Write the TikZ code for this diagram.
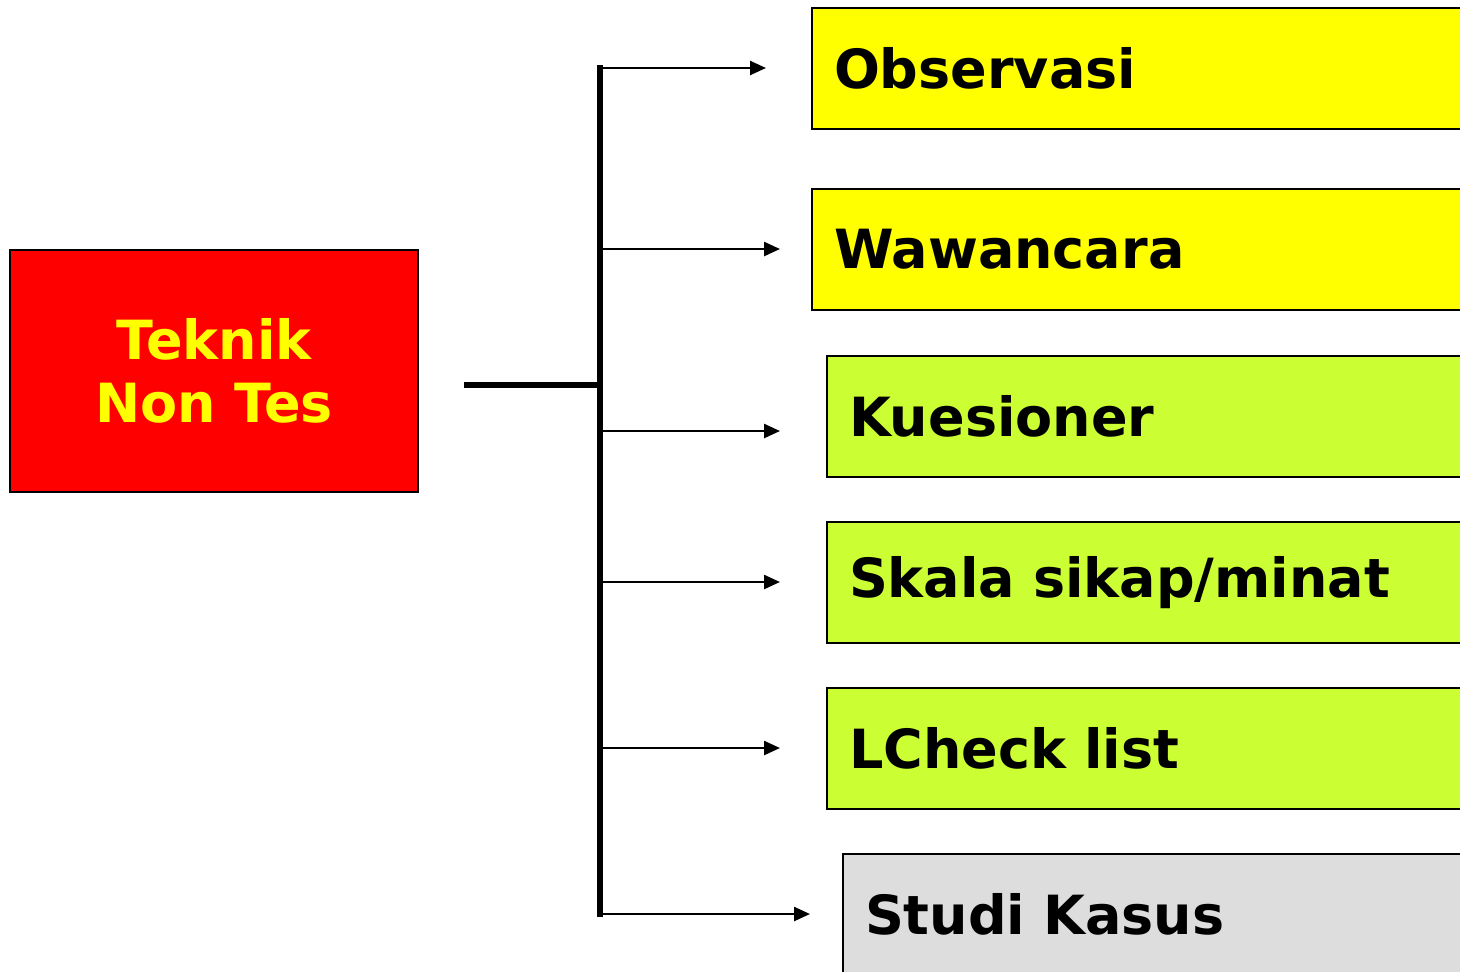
\documentclass[tikz,border=0pt]{standalone}
\usepackage{fontspec}
\setmainfont{DejaVu Sans}
\usetikzlibrary{arrows.meta}

\definecolor{redbox}{HTML}{FF0000}
\definecolor{yellowbox}{HTML}{FFFF00}
\definecolor{limebox}{HTML}{CCFF33}
\definecolor{greybox}{HTML}{DDDDDD}

\tikzset{
	item/.style={draw=black,line width=1pt,anchor=west,minimum width=350pt,
		minimum height=60.5pt,text width=328pt,inner xsep=11pt,align=left,
		font=\fontsize{27}{32}\selectfont\bfseries},
	arrow/.style={-{Triangle[length=8pt,width=7pt]},line width=1.25pt},
	trunk/.style={line width=3pt}
}

\begin{document}
\begin{tikzpicture}[x=0.5pt,y=-0.5pt]
	\clip (0,0) rectangle (1460,971);
	\useasboundingbox (0,0) rectangle (1460,971);

	% rectangle teknik non tes
	\node[draw=black,line width=1pt,fill=redbox,text=yellowbox,minimum width=204pt,
		minimum height=121pt,align=center,font=\fontsize{27}{31.5}\selectfont\bfseries]
		(teknik) at(214,371) {Teknik\\Non Tes};

	% rectangles of the items
	\node[item,fill=yellowbox] (obs) at(811,68) {Observasi};
	\node[item,fill=yellowbox] (waw) at(811,249.5) {Wawancara};
	\node[item,fill=limebox] (kue) at(826,416.5) {Kuesioner};
	\node[item,fill=limebox] (ska) at(826,582.5) {Skala sikap/minat};
	\node[item,fill=limebox] (cek) at(826,748.5) {LCheck list};
	\node[item,fill=greybox] (stu) at(842,914.5) {Studi Kasus};

	% points on the trunk
	\coordinate (stem) at(464,385);
	\coordinate (joint) at(600,385);
	\coordinate (t1) at(600,68);
	\coordinate (t2) at(600,249);
	\coordinate (t3) at(600,431);
	\coordinate (t4) at(600,582);
	\coordinate (t5) at(600,748);
	\coordinate (t6) at(600,914);

	% connection lines
	\draw[trunk] (stem) -- (joint);
	\draw[trunk] ([yshift=1.5pt]t1) -- ([yshift=-1.5pt]t6);

	% arrows
	\draw[arrow,shorten >=22.5pt] (t1) -- (t1 -| obs.west);
	\draw[arrow,shorten >=15.5pt] (t2) -- (t2 -| waw.west);
	\draw[arrow,shorten >=23pt] (t3) -- (t3 -| kue.west);
	\draw[arrow,shorten >=23pt] (t4) -- (t4 -| ska.west);
	\draw[arrow,shorten >=23pt] (t5) -- (t5 -| cek.west);
	\draw[arrow,shorten >=16pt] (t6) -- (t6 -| stu.west);
\end{tikzpicture}
\end{document}
